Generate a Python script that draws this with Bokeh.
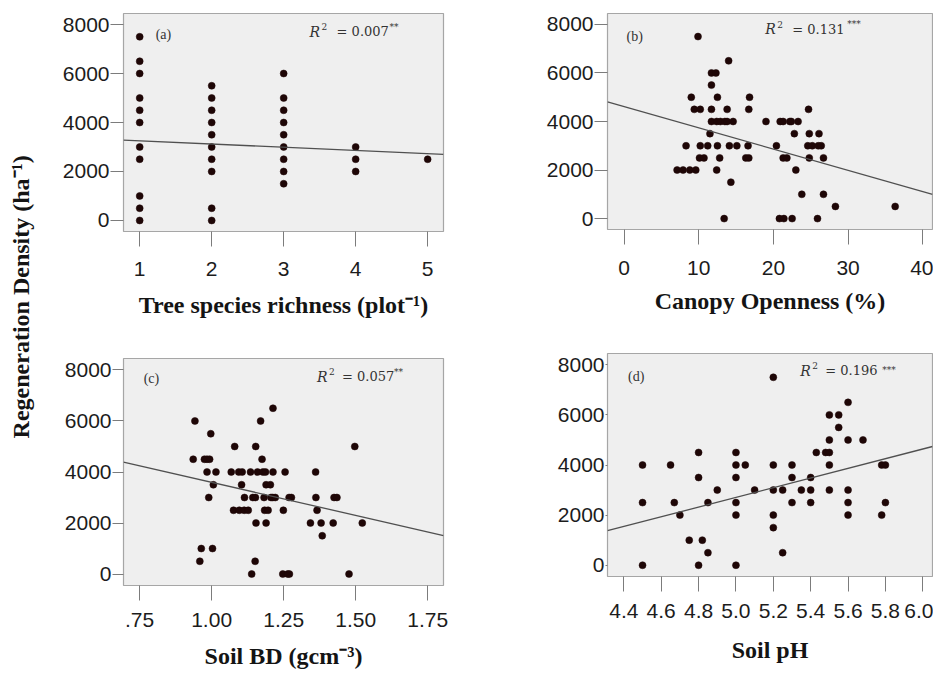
from math import pi
from bokeh.plotting import figure
from bokeh.layouts import row, column
from bokeh.models import Label, FixedTicker, CustomJSTickFormatter, Range1d
from bokeh.embed import file_html
from bokeh.resources import INLINE

# ---------------- data ----------------
# (a) Tree species richness vs regeneration density
rich_x = [1, 1, 1, 1, 1, 1, 1, 1, 1, 1, 1,
          2, 2, 2, 2, 2, 2, 2, 2, 2, 2,
          3, 3, 3, 3, 3, 3, 3, 3, 3,
          4, 4, 4,
          5]
rich_y = [7500, 6500, 6000, 5000, 4500, 4000, 3000, 2500, 1000, 500, 0,
          5500, 5000, 4500, 4000, 3500, 3000, 2500, 2000, 500, 0,
          6000, 5000, 4500, 4000, 3500, 3000, 2500, 2000, 1500,
          3000, 2500, 2000,
          2500]

# (b) Canopy openness
canopy_x = [9.9,
            14.0,
            11.7, 12.3,
            11.7,
            9.0, 12.5, 16.8,
            9.4, 10.2, 11.7, 13.8, 16.7, 24.7,
            11.7, 12.4, 12.9, 13.5, 13.8, 14.6, 19.0, 20.9, 21.3, 22.2, 22.4, 23.3,
            11.5, 22.8, 24.8, 26.1,
            8.3, 10.2, 11.2, 12.5, 14.1, 15.1, 16.6, 20.4, 24.6, 25.2, 26.0, 26.4,
            10.1, 10.7, 12.8, 16.3, 16.7, 21.3, 21.8, 24.8, 26.7,
            7.1, 7.9, 8.8, 9.6, 12.4, 23.0,
            14.3,
            23.8, 26.7,
            28.3, 36.3,
            13.4, 20.8, 21.4, 22.5, 25.9]
canopy_y = [7500,
            6500,
            6000, 6000,
            5500,
            5000, 5000, 5000,
            4500, 4500, 4500, 4500, 4500, 4500,
            4000, 4000, 4000, 4000, 4000, 4000, 4000, 4000, 4000, 4000, 4000, 4000,
            3500, 3500, 3500, 3500,
            3000, 3000, 3000, 3000, 3000, 3000, 3000, 3000, 3000, 3000, 3000, 3000,
            2500, 2500, 2500, 2500, 2500, 2500, 2500, 2500, 2500,
            2000, 2000, 2000, 2000, 2000, 2000,
            1500,
            1000, 1000,
            500, 500,
            0, 0, 0, 0, 0]

# (c) Soil bulk density
bd_x = [1.213,
        0.942, 1.170,
        0.997,
        1.080, 1.153, 1.497,
        0.936, 0.975, 0.984, 0.993, 1.175,
        0.984, 1.015, 1.068, 1.094, 1.106, 1.135, 1.159, 1.178, 1.187, 1.213, 1.255, 1.361,
        1.006, 1.104, 1.189, 1.204,
        0.990, 1.114, 1.143, 1.152, 1.182, 1.206, 1.212, 1.221, 1.269, 1.277, 1.362, 1.425, 1.435,
        1.076, 1.096, 1.113, 1.127, 1.184, 1.196, 1.249, 1.366,
        1.154, 1.189, 1.343, 1.380, 1.422, 1.523,
        1.384,
        0.964, 1.003,
        0.959, 1.151,
        1.139, 1.247, 1.264, 1.270, 1.477]
bd_y = [6500,
        6000, 6000,
        5500,
        5000, 5000, 5000,
        4500, 4500, 4500, 4500, 4500,
        4000, 4000, 4000, 4000, 4000, 4000, 4000, 4000, 4000, 4000, 4000, 4000,
        3500, 3500, 3500, 3500,
        3000, 3000, 3000, 3000, 3000, 3000, 3000, 3000, 3000, 3000, 3000, 3000, 3000,
        2500, 2500, 2500, 2500, 2500, 2500, 2500, 2500,
        2000, 2000, 2000, 2000, 2000, 2000,
        1500,
        1000, 1000,
        500, 500,
        0, 0, 0, 0, 0]

# (d) Soil pH
ph_x = [5.2,
        5.6,
        5.5, 5.55,
        5.55,
        5.5, 5.6, 5.68,
        4.8, 5.0, 5.43, 5.48, 5.5,
        4.5, 4.65, 5.0, 5.05, 5.2, 5.3, 5.5, 5.78, 5.8,
        4.8, 5.0, 5.3, 5.4,
        4.9, 5.1, 5.2, 5.25, 5.35, 5.4, 5.5, 5.6,
        4.5, 4.67, 4.85, 5.0, 5.3, 5.4, 5.6, 5.8,
        4.7, 5.0, 5.2, 5.6, 5.78,
        5.2,
        4.75, 4.82,
        4.85, 5.25,
        4.5, 4.8, 5.0]
ph_y = [7500,
        6500,
        6000, 6000,
        5500,
        5000, 5000, 5000,
        4500, 4500, 4500, 4500, 4500,
        4000, 4000, 4000, 4000, 4000, 4000, 4000, 4000, 4000,
        3500, 3500, 3500, 3500,
        3000, 3000, 3000, 3000, 3000, 3000, 3000, 3000,
        2500, 2500, 2500, 2500, 2500, 2500, 2500, 2500,
        2000, 2000, 2000, 2000, 2000,
        1500,
        1000, 1000,
        500, 500,
        0, 0, 0]

# fitted lines (intercept, slope) as drawn in the reference
fit_a = [3381, -130.5]
fit_b = [4617, -87.7]
fit_c = [6184, -2590]
fit_d = [-6954, 1932]

r2_text = ["0.007", "0.131", "0.057", "0.196"]
r2_stars = ["**", "***", "**", "***"]
panel_tags = ["(a)", "(b)", "(c)", "(d)"]

ticks_a = [1, 2, 3, 4, 5]
ticks_b = [0, 10, 20, 30, 40]
ticks_c = [0.75, 1.0, 1.25, 1.5, 1.75]
ticks_d = [4.4, 4.6, 4.8, 5.0, 5.2, 5.4, 5.6, 5.8, 6.0]
ticks_y = [0, 2000, 4000, 6000, 8000]

x_labels = ["Tree species richness (plot\u207b\u00b9)",
            "Canopy Openness (%)",
            "Soil BD (gcm\u207b\u00b3)",
            "Soil pH"]
y_label = "Regeneration Density (ha\u207b\u00b9)"

# ---------------- styling ----------------
TICK_FONT = "Liberation Sans"
LABEL_FONT = "Liberation Serif"
BG = "#efefef"
DOT = "#1e0606"
YR = (-450, 8450)


def make_panel(xr, xticks, xlab, w, h, bl, br, bt, bb, ytick_out, lab_stand, ax_stand, fmt=None):
    p = figure(width=w, height=h, x_range=Range1d(*xr), y_range=Range1d(*YR),
               output_backend="svg", toolbar_location=None,
               min_border_left=bl, min_border_right=br, min_border_top=bt, min_border_bottom=bb)
    p.background_fill_color = BG
    p.border_fill_color = "white"
    p.outline_line_color = "#a6a6a6"
    p.outline_line_width = 1.2
    p.grid.visible = False
    p.xaxis.ticker = FixedTicker(ticks=xticks)
    p.yaxis.ticker = FixedTicker(ticks=ticks_y)
    if fmt is not None:
        p.xaxis.formatter = fmt
    for ax in (p.xaxis[0], p.yaxis[0]):
        ax.axis_line_color = None
        ax.major_tick_line_color = "#7c7c7c"
        ax.major_tick_line_width = 1
        ax.major_tick_in = 0
        ax.minor_tick_line_color = None
        ax.major_label_text_font = TICK_FONT
        ax.major_label_text_font_size = "21px"
        ax.major_label_text_color = "#1c1c1c"
    p.xaxis.major_tick_out = 15
    p.xaxis.major_label_standoff = lab_stand
    p.yaxis.major_tick_out = ytick_out
    p.yaxis.major_label_standoff = 1
    p.xaxis.axis_label = xlab
    p.xaxis.axis_label_text_font = LABEL_FONT
    p.xaxis.axis_label_text_font_style = "bold"
    p.xaxis.axis_label_text_font_size = "24px"
    p.xaxis.axis_label_text_color = "#141414"
    p.xaxis.axis_label_standoff = ax_stand
    return p


def add_points_and_fit(p, xs, ys, fit, xr):
    p.scatter(xs, ys, size=7, fill_color=DOT, line_color=DOT, line_width=0.5)
    lx = [xr[0], xr[1]]
    ly = [fit[0] + fit[1] * v for v in lx]
    p.line(lx, ly, line_color="#505050", line_width=1.3)


def add_texts(p, tag, tx, ty, rx, ry, val, stars, star_off, eq_off=27, star_dy=5):
    p.add_layout(Label(x=tx, y=ty, text=tag, text_font=LABEL_FONT, text_font_size="14px",
                       text_align="center", text_baseline="middle", text_color="#333333"))
    common = dict(x=rx, y=ry, text_baseline="middle", text_align="left", text_color="#333333")
    p.add_layout(Label(text="R", text_font="DejaVu Serif", text_font_style="italic",
                       text_font_size="14px", **common))
    p.add_layout(Label(text="2", text_font="DejaVu Serif", text_font_size="9px",
                       x_offset=12, y_offset=5, **common))
    p.add_layout(Label(text="= " + val, text_font="DejaVu Serif", text_font_size="13px",
                       x_offset=eq_off, **common))
    p.add_layout(Label(text=stars, text_font="DejaVu Serif", text_font_size="9px",
                       x_offset=star_off, y_offset=star_dy, **common))


xr_a = (0.775, 5.22)
xr_b = (-2.22, 41.3)
xr_c = (0.694, 1.805)
xr_d = (4.3125, 6.052)

fmt_c = CustomJSTickFormatter(code="return tick.toFixed(2).replace(/^0/, '');")
fmt_d = CustomJSTickFormatter(code="return tick.toFixed(1);")

pa = make_panel(xr_a, ticks_a, x_labels[0], 427, 330, 70, 35, 13, 99, 13, 15, 13)
add_points_and_fit(pa, rich_x, rich_y, fit_a, xr_a)
add_texts(pa, panel_tags[0], 1.33, 7590, 3.36, 7714, r2_text[0], r2_stars[0], 80)

pb = make_panel(xr_b, ticks_b, x_labels[1], 453, 330, 127, 1, 13, 101, 13, 16, 10)
add_points_and_fit(pb, canopy_x, canopy_y, fit_b, xr_b)
add_texts(pb, panel_tags[1], 1.43, 7508, 18.9, 7795, r2_text[1], r2_stars[1], 82)

pc = make_panel(xr_c, ticks_c, x_labels[2], 427, 345, 61, 37, 28, 90, 11, 12, 13, fmt_c)
add_points_and_fit(pc, bd_x, bd_y, fit_c, xr_c)
add_texts(pc, panel_tags[2], 0.791, 7665, 1.366, 7743, r2_text[2], r2_stars[2], 77, eq_off=25)

pd_ = make_panel(xr_d, ticks_d, x_labels[3], 453, 345, 127, 1, 23, 99, 2, 12, 16, fmt_d)
add_points_and_fit(pd_, ph_x, ph_y, fit_d, xr_d)
add_texts(pd_, panel_tags[3], 4.466, 7517, 5.344, 7758, r2_text[3], r2_stars[3], 82, eq_off=25, star_dy=1)

# shared y label
py = figure(width=53, height=675, x_range=Range1d(0, 1), y_range=Range1d(0, 1),
            output_backend="svg", toolbar_location=None, x_axis_type=None, y_axis_type=None,
            min_border=0)
py.outline_line_color = None
py.grid.visible = False
py.add_layout(Label(x=0.38, y=0.561, text=y_label, angle=pi / 2, text_align="center",
                    text_baseline="middle", text_font=LABEL_FONT, text_font_style="bold",
                    text_font_size="24px", text_color="#141414"))

layout = row(py, column(pa, pc), column(pb, pd_))

open("out.html", "w").write(file_html(layout, INLINE))
